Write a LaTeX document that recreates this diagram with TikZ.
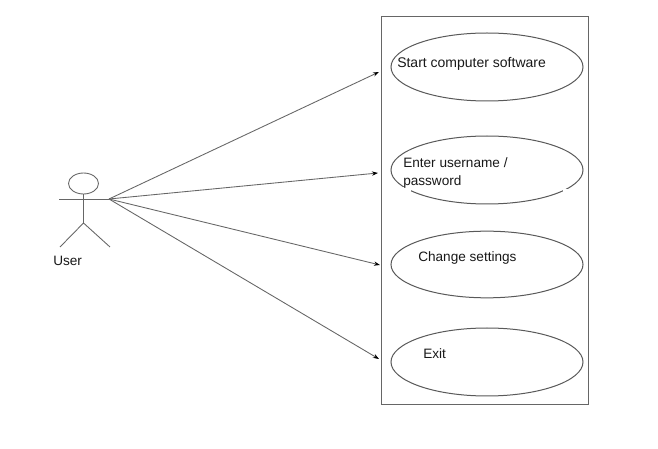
\documentclass[tikz,border=0pt]{standalone}
\usepackage{fontspec}
\setmainfont{Liberation Sans}
\usetikzlibrary{arrows.meta,shapes.geometric}
\tikzset{
 usecase/.style={draw=black!65,line width=0.75pt,ellipse,inner sep=0pt,minimum width=144pt,minimum height=51pt},
 lbl/.style={font=\fontsize{10.2}{13.5}\selectfont,inner sep=0pt,anchor=west,align=left,text=black!90},
 conn/.style={draw=black!60,line width=0.65pt,-{Stealth[length=4.5pt,width=3.2pt,black]}},
 stick/.style={draw=black!60,line width=0.65pt}
}
\begin{document}
\begin{tikzpicture}[x=0.75pt,y=-0.75pt]
\useasboundingbox (0,0) rectangle (658,449);
\fill[white] (0,0) rectangle (658,449);
\node[draw=black!60,line width=0.65pt,minimum width=155.25pt,minimum height=291pt,inner sep=0pt] (sys) at (485,210.5) {};
\node[usecase] (u1) at (487,67) {};
\node[usecase] (u2) at (487,170) {};
\node[usecase,minimum height=50pt] (u3) at (487,264.5) {};
\node[usecase] (u4) at (487,362) {};
\fill[white] (403,187) rectangle (411,198);
\fill[white] (563,189) rectangle (568,200);
\node[lbl,font=\fontsize{10.5}{13.5}\selectfont] (t1) at (397,63.5) {Start computer software};
\node[lbl] (t2) at (403,172.5) {Enter username /\\password};
\node[lbl] (t3) at (418,257.5) {Change settings};
\node[lbl] (t4) at (423,353.5) {Exit};
\node[draw=black!60,line width=0.65pt,ellipse,minimum width=22.5pt,minimum height=15.75pt,inner sep=0pt] (head) at (83.5,183.5) {};
\coordinate (waist) at (83.5,223);
\coordinate (armL) at (59,199);
\coordinate (armR) at (109,199);
\coordinate (legL) at (60,247);
\coordinate (legR) at (110,247);
\draw[stick] (head.south) -- (waist);
\draw[stick] (armL) -- (armR);
\draw[stick] (legL) -- (waist) -- (legR);
\node[lbl] (user) at (53,260.5) {User};
\coordinate (e1) at (379,72);
\coordinate (e2) at (378,173);
\coordinate (e3) at (380,265);
\coordinate (e4) at (379,359);
\draw[conn] (armR) -- (e1);
\draw[conn] (armR) -- (e2);
\draw[conn] (armR) -- (e3);
\draw[conn] (armR) -- (e4);
\end{tikzpicture}
\end{document}
